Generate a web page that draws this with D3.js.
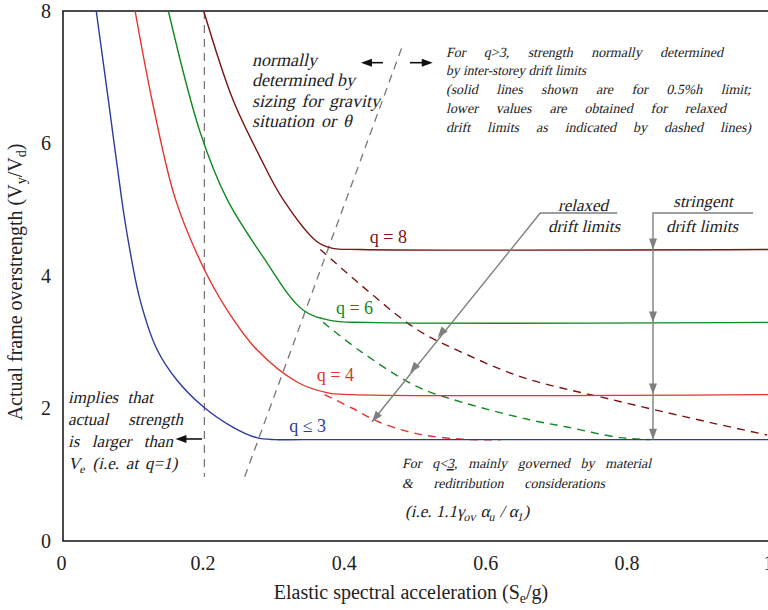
<!DOCTYPE html>
<html><head><meta charset="utf-8">
<script src="https://cdn.jsdelivr.net/npm/d3@7"></script>
<style>
body{margin:0;background:#fff;}
svg{display:block;}
text{font-family:"Liberation Serif","Times New Roman",serif;}
</style></head>
<body>
<svg id="chart" width="768" height="610"></svg>
<script>
// ---------- data ----------
const xTicks = [0, 0.2, 0.4, 0.6, 0.8, 1];
const yTicks = [0, 2, 4, 6, 8];
const seriesLabels = ["q \u2264 3", "q = 4", "q = 6", "q = 8"];
// solid curves (strength for stringent drift limits)
const q3Solid = [[0.047,8],[0.064,6.67],[0.083,5.16],[0.092,4.55],[0.109,3.64],[0.133,2.89],[0.161,2.43],[0.198,2.03],[0.240,1.72],[0.274,1.56],[0.300,1.53],[0.34,1.53],[1.0,1.53]];
const q4Solid = [[0.102,8],[0.127,6.6],[0.159,5.16],[0.198,4.14],[0.232,3.49],[0.274,2.89],[0.331,2.40],[0.373,2.24],[0.41,2.21],[1.0,2.21]];
const q6Solid = [[0.149,8],[0.194,6.17],[0.232,5.16],[0.283,4.29],[0.339,3.49],[0.378,3.33],[0.43,3.30],[1.0,3.30]];
const q8Solid = [[0.199,8],[0.240,6.67],[0.278,5.81],[0.311,5.16],[0.359,4.52],[0.380,4.42],[0.42,4.40],[1.0,4.40]];
// dashed curves (relaxed drift limits)
const q4Dashed = [[0.37,2.21],[0.41,2.0],[0.446,1.80],[0.50,1.62],[0.566,1.535],[0.62,1.53]];
const q6Dashed = [[0.368,3.30],[0.424,2.84],[0.501,2.33],[0.566,2.09],[0.660,1.83],[0.713,1.72],[0.788,1.56],[0.83,1.53]];
const q8Dashed = [[0.364,4.40],[0.424,3.84],[0.501,3.19],[0.566,2.84],[0.650,2.47],[0.778,2.13],[0.919,1.78],[0.996,1.60]];
const colors = ["#2d3a9f", "#e6332b", "#108a20", "#7a1313"];

// ---------- layout ----------
const FONT = "Liberation Serif, Times New Roman, serif";
const svg = d3.select("#chart");
const x = d3.scaleLinear().domain([0, 1]).range([63, 770]);
const y = d3.scaleLinear().domain([0, 8]).range([541, 11]);

svg.append("rect").attr("x", x(0)).attr("y", y(8))
  .attr("width", x(1) - x(0)).attr("height", y(0) - y(8))
  .attr("fill", "none").attr("stroke", "#111").attr("stroke-width", 1.5);

const xAxis = svg.append("g").attr("transform", `translate(-2,${y(0)})`)
  .call(d3.axisBottom(x).tickValues(xTicks).tickSize(0).tickPadding(10).tickFormat(d3.format("")));
const yAxis = svg.append("g").attr("transform", `translate(${x(0)},0)`)
  .call(d3.axisLeft(y).tickValues(yTicks).tickSize(0).tickPadding(12));
[xAxis, yAxis].forEach(g => {
  g.select(".domain").remove();
  g.selectAll("text").attr("font-family", FONT).attr("font-size", 20).attr("fill", "#222");
});
xAxis.selectAll("text").attr("dy", "0.95em");

const xt = svg.append("text").attr("x", 411).attr("y", 599).attr("text-anchor", "middle")
  .attr("font-family", FONT).attr("font-size", 20).attr("fill", "#222");
xt.append("tspan").text("Elastic spectral acceleration (S");
xt.append("tspan").attr("font-size", 14).attr("dy", 4).text("e");
xt.append("tspan").attr("dy", -4).text("/g)");
const yt = svg.append("text").attr("transform", "translate(22,282) rotate(-90)").attr("text-anchor", "middle")
  .attr("font-family", FONT).attr("font-size", 20).attr("fill", "#222");
yt.append("tspan").text("Actual frame overstrength (V");
yt.append("tspan").attr("font-size", 14).attr("dy", 4).text("y");
yt.append("tspan").attr("dy", -4).text("/V");
yt.append("tspan").attr("font-size", 14).attr("dy", 4).text("d");
yt.append("tspan").attr("dy", -4).text(")");

const line = d3.line().x(d => x(d[0])).y(d => y(d[1]));
const guideV = [[0.2, 8], [0.2, 0.97]];
const guideS = [[0.257, 0.97], [0.481, 7.50]];
[guideV, guideS].forEach(g => svg.append("path").attr("d", line(g))
  .attr("fill", "none").attr("stroke", "#777").attr("stroke-width", 1.3).attr("stroke-dasharray", "8,6"));

const curve = d3.line().x(d => x(d[0])).y(d => y(d[1])).curve(d3.curveCatmullRom.alpha(0.5));
[[q4Dashed, 1], [q6Dashed, 2], [q8Dashed, 3]].forEach(([d, i]) =>
  svg.append("path").attr("d", curve(d)).attr("fill", "none").attr("stroke", colors[i])
    .attr("stroke-width", 1.4).attr("stroke-dasharray", "8,6"));
[q3Solid, q4Solid, q6Solid, q8Solid].forEach((d, i) =>
  svg.append("path").attr("d", curve(d)).attr("fill", "none").attr("stroke", colors[i]).attr("stroke-width", 1.4));

const labelPos = [[0.320, 1.65], [0.359, 2.41], [0.386, 3.42], [0.434, 4.50]];
seriesLabels.forEach((t, i) => svg.append("text").attr("x", x(labelPos[i][0])).attr("y", y(labelPos[i][1]))
  .attr("font-family", FONT).attr("font-size", 18).attr("fill", colors[i]).text(t));

function head(px, py, ang, color, len = 11, w = 8) {
  const c = Math.cos(ang), s = Math.sin(ang);
  const bx = px - len * c, by = py - len * s;
  const pts = [[px, py], [bx - w / 2 * s, by + w / 2 * c], [bx + w / 2 * s, by - w / 2 * c]];
  svg.append("path").attr("d", "M" + pts.map(p => p.join(",")).join("L") + "Z").attr("fill", color);
}
function arrow(a, b, color, sw) {
  const x1 = x(a[0]), y1 = y(a[1]), x2 = x(b[0]), y2 = y(b[1]);
  const ang = Math.atan2(y2 - y1, x2 - x1);
  svg.append("line").attr("x1", x1).attr("y1", y1).attr("x2", x2 - 6 * Math.cos(ang)).attr("y2", y2 - 6 * Math.sin(ang))
    .attr("stroke", color).attr("stroke-width", sw);
  head(x2, y2, ang, color);
}
arrow([0.4526, 7.22], [0.4214, 7.22], "#111", 1.6);
arrow([0.4908, 7.22], [0.523, 7.22], "#111", 1.6);
arrow([0.1966, 1.54], [0.159, 1.54], "#111", 1.6);

const gray = "#808080";
const relaxedLine = [[0.675, 4.95], [0.437, 1.80]];
const relaxedHeads = [[0.530, 3.07], [0.491, 2.54], [0.437, 1.80]];
svg.append("path").attr("d", line([[0.784, 4.95], [0.675, 4.95], [0.437, 1.80]]))
  .attr("fill", "none").attr("stroke", gray).attr("stroke-width", 1.4);
{
  const ang = Math.atan2(y(relaxedLine[1][1]) - y(relaxedLine[0][1]), x(relaxedLine[1][0]) - x(relaxedLine[0][0]));
  relaxedHeads.forEach(p => head(x(p[0]), y(p[1]), ang, gray));
}
const stringentX = 0.8345;
svg.append("path").attr("d", line([[0.976, 4.95], [stringentX, 4.95], [stringentX, 1.53]]))
  .attr("fill", "none").attr("stroke", gray).attr("stroke-width", 1.4);
[4.40, 3.30, 2.21, 1.53].forEach(v => head(x(stringentX), y(v), Math.PI / 2, gray));

// italic text: upright serif skewed
const SK = Math.tan(13 * Math.PI / 180);
function para(lines, px, py0, lh, size, anchor) {
  const g = svg.append("g").attr("transform", `translate(${px},${py0}) skewX(-13)`);
  lines.forEach((ln, i) => {
    const yy = i * lh;
    const t = g.append("text").attr("x", SK * yy).attr("y", yy)
      .attr("font-family", FONT).attr("font-size", ln.size || size).attr("fill", "#222");
    if (anchor) t.attr("text-anchor", anchor);
    const parts = typeof ln.t === "string" ? [{ s: ln.t }] : ln.t;
    parts.forEach(p => {
      const ts = t.append("tspan").text(p.s);
      if (p.sub) ts.attr("font-size", (ln.size || size) * 0.7).attr("dy", 4);
      if (p.up) ts.attr("dy", -4);
      if (p.ul) ts.attr("text-decoration", "underline");
    });
    if (ln.w) {
      const nat = t.node().getComputedTextLength();
      const spaces = (t.text().match(/ /g) || []).length;
      if (nat < ln.w && spaces > 0) t.attr("word-spacing", (ln.w - nat) / spaces);
      else if (nat > ln.w) t.attr("textLength", ln.w).attr("lengthAdjust", "spacingAndGlyphs");
    }
  });
}

para([{ t: "normally" }, { t: "determined by", w: 103 }, { t: "sizing for gravity", w: 128 }, { t: "situation or  \u03b8", w: 102 }],
  252, 66, 20.5, 18);
para([
  { t: "For q>3, strength normally determined", w: 277 },
  { t: "by inter-storey drift limits", w: 140 },
  { t: "(solid lines shown are for 0.5%h limit;", w: 305 },
  { t: "lower values are obtained for relaxed", w: 280 },
  { t: "drift limits as indicated by dashed lines)", w: 305 }
], 446, 56.5, 19, 14);
para([
  { t: "implies that", w: 85 },
  { t: "actual strength", w: 115 },
  { t: "is larger than", w: 105 },
  { t: [{ s: "V" }, { s: "e", sub: true }, { s: "  (i.e. at q=1)", up: true }], w: 112 }
], 68, 403, 22, 17);
para([
  { t: [{ s: "For q<" }, { s: "3", ul: true }, { s: ",  mainly  governed  by  material" }], w: 278 },
  { t: "& reditribution considerations", w: 203 },
], 402, 468, 20, 14);
para([
  { t: [{ s: "(i.e. 1.1" }, { s: "\u03b3" }, { s: "ov", sub: true }, { s: " \u03b1", up: true }, { s: "u", sub: true }, { s: " / \u03b1", up: true }, { s: "1", sub: true }, { s: ")", up: true }] }
], 405, 517, 20, 17);

para([{ t: "relaxed" }], 583, 211, 20, 17, "middle");
para([{ t: "drift limits" }], 584, 232, 20, 17, "middle");
para([{ t: "stringent" }], 703, 207, 20, 17, "middle");
para([{ t: "drift limits" }], 702, 232, 20, 17, "middle");
</script>
</body></html>
